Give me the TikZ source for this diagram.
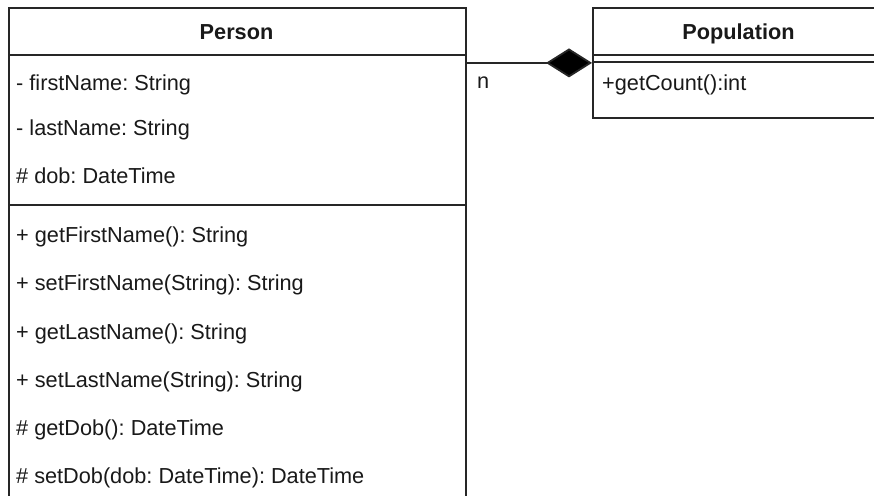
\documentclass[tikz,border=0pt]{standalone}
\usepackage{fontspec}
\setmainfont{Liberation Sans}
\usetikzlibrary{arrows.meta}
\frenchspacing

\tikzset{
  umlbox/.style={draw=black!85, line width=1.8pt, inner sep=0pt},
  sepline/.style={draw=black!85, line width=1.8pt},
  member/.style={anchor=base west, inner sep=0pt, text=black!90,
    font=\fontsize{21.7}{26}\selectfont},
  classname/.style={anchor=base, inner sep=0pt, text=black!90,
    font=\fontsize{21.7}{26}\selectfont\bfseries},
  composition/.style={draw=black!85, line width=1.8pt,
    -{Diamond[length=46pt, width=29pt, fill=black]}},
}

\begin{document}
\begin{tikzpicture}[x=1pt, y=-1pt]
  \useasboundingbox (0,0) rectangle (874,495);
  \clip (0,0) rectangle (874,495);

  % Person class: the box runs on past the lower edge
  \node[umlbox, anchor=north west, minimum width=457pt, minimum height=530pt]
    (person) at (8,7) {};
  \draw[sepline] (person.west |- 0,55) -- (person.east |- 0,55);
  \draw[sepline] (person.west |- 0,205) -- (person.east |- 0,205);

  \node[classname] (personname) at (236.5,40) {Person};

  \node[member] (a1) at (16,90)  {- firstName: String};
  \node[member] (a2) at (16,135) {- lastName: String};
  \node[member] (a3) at (16,183) {\# dob: DateTime};

  \node[member] (m1) at (16,242) {+ getFirstName(): String};
  \node[member] (m2) at (16,290) {+ setFirstName(String): String};
  \node[member] (m3) at (16,339) {+ getLastName(): String};
  \node[member] (m4) at (16,387) {+ setLastName(String): String};
  \node[member] (m5) at (16,435) {\# getDob(): DateTime};
  \node[member] (m6) at (16,483) {\# setDob(dob: DateTime): DateTime};

  % Population class: the box runs on past the right edge
  \node[umlbox, anchor=north west, minimum width=293pt, minimum height=110pt]
    (population) at (592,7) {};
  \draw[sepline] (population.west |- 0,55) -- (population.east |- 0,55);
  \draw[sepline] (population.west |- 0,62) -- (population.east |- 0,62);

  \node[classname] (popname) at (738.5,40) {Population};
  \node[member] (p1) at (602,90) {+getCount():int};

  % composition: many persons make up a population
  \draw[composition] (person.east |- population.west) -- (population.west);
  \node[member] (mult) at (477,88) {n};
\end{tikzpicture}
\end{document}
